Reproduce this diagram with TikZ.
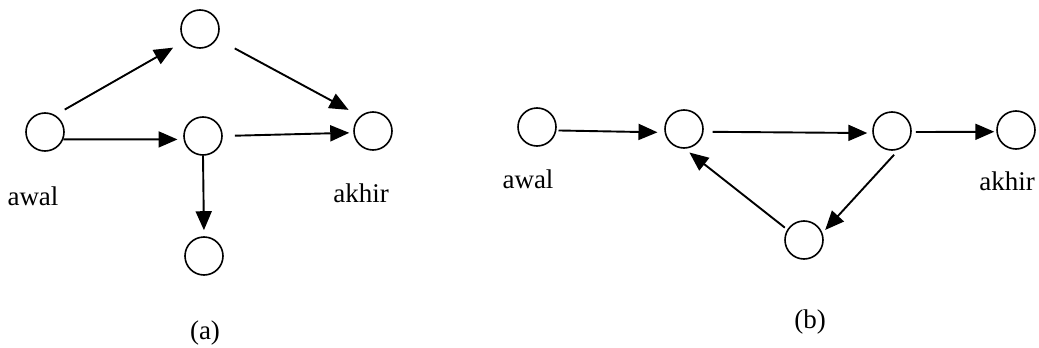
\documentclass[tikz,border=0pt]{standalone}
\usepackage{fontspec}
\setmainfont{Liberation Serif}
\usetikzlibrary{arrows.meta}
\begin{document}
\begin{tikzpicture}[x=1pt,y=-1pt,
  state/.style={circle,draw=black,line width=1.6pt,minimum size=38pt,inner sep=0pt},
  arr/.style={line width=1.9pt,-{Triangle[length=19pt,width=16pt]}},
  lbl/.style={anchor=base,inner sep=0pt,font=\fontsize{27}{31}\selectfont}]
\useasboundingbox (0,0) rectangle (1039,348);

% ---- graph (a) ----
\node[state] (aL) at (45,132) {};
\node[state] (aT) at (200,29) {};
\node[state] (aM) at (203,136) {};
\node[state] (aR) at (373,131) {};
\node[state] (aB) at (204,256) {};

\draw[arr,shorten <=11pt,shorten >=13pt] (aL.59) -- (aT.218);
\draw[arr,shorten <=20pt,shorten >=13pt] (aT.-30) -- (aR.131);
\draw[arr,shorten >=6pt] (aL.-22) -- (aM.190);
\draw[arr,shorten <=12pt,shorten >=4pt] (aM.east) -- (aR.185);
\draw[arr,shorten >=6pt] (aM.south) -- (aB.north);

\node[lbl] (aawal) at (33,205) {awal};
\node[lbl] (aakhir) at (361,202) {akhir};
\node[lbl] (acap) at (205,339) {(a)};

% ---- graph (b) ----
\node[state] (bA) at (537,127) {};
\node[state] (bN) at (684,129) {};
\node[state] (bM) at (892,131) {};
\node[state] (bZ) at (1016,130) {};
\node[state] (bB) at (804,240) {};

\draw[arr,shorten <=2pt,shorten >=7pt] (bA.-10) -- (bN.190);
\draw[arr,shorten <=9pt,shorten >=5pt] (bN.-8) -- (bM.186);
\draw[arr,shorten <=4pt,shorten >=2pt] (bM.-3) -- (bZ.185);
\draw[arr,shorten <=7pt,shorten >=4pt] (bM.-70) -- (bB.21);
\draw[arr,shorten <=3pt,shorten >=6pt] (bB.148) -- (bN.-88);

\node[lbl] (bawal) at (528,188) {awal};
\node[lbl] (bakhir) at (1007,190) {akhir};
\node[lbl] (bcap) at (810,328) {(b)};
\end{tikzpicture}
\end{document}
